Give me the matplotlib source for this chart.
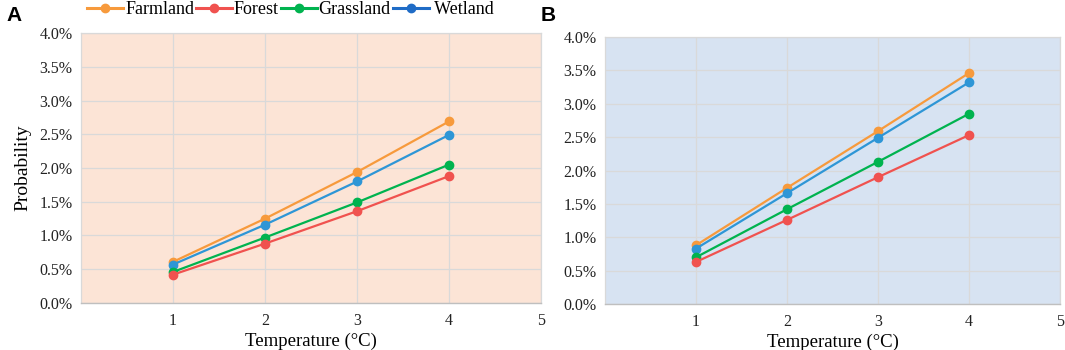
import matplotlib
matplotlib.use("Agg")
import matplotlib.pyplot as plt
from matplotlib.ticker import FuncFormatter

plt.rcParams['font.family'] = ['Liberation Serif', 'DejaVu Serif']

temps = [1, 2, 3, 4]
series_names = ["Farmland", "Forest", "Grassland", "Wetland"]

# Panel A values (%)
a_farmland = [0.61, 1.25, 1.94, 2.69]
a_forest = [0.42, 0.88, 1.36, 1.88]
a_grassland = [0.46, 0.97, 1.49, 2.05]
a_wetland = [0.57, 1.16, 1.80, 2.49]

# Panel B values (%)
b_farmland = [0.88, 1.74, 2.59, 3.46]
b_forest = [0.63, 1.26, 1.90, 2.53]
b_grassland = [0.70, 1.42, 2.13, 2.85]
b_wetland = [0.83, 1.66, 2.49, 3.32]

colors = {"Farmland": "#F79A3C", "Forest": "#F0524F", "Grassland": "#00B34F", "Wetland": "#2E96D6"}
legend_colors = {"Farmland": "#F79A3C", "Forest": "#F0524F", "Grassland": "#00B34F", "Wetland": "#1F6CC6"}

fig = plt.figure(figsize=(10.65, 3.5), dpi=100)
axA = fig.add_axes([0.0761, 0.1343, 0.4319, 0.7714])
axB = fig.add_axes([0.5681, 0.1314, 0.4272, 0.7629])

def style(ax, bg, data):
    ax.set_facecolor(bg)
    order = ["Farmland", "Wetland", "Grassland", "Forest"]
    for name in order:
        ax.plot(temps, data[name], color=colors[name], lw=1.6, marker='o', ms=6, zorder=3)
    ax.set_xlim(0, 5)
    ax.set_ylim(0, 4.0)
    ax.set_xticks([1, 2, 3, 4, 5])
    ax.set_yticks([i * 0.5 for i in range(9)])
    ax.yaxis.set_major_formatter(FuncFormatter(lambda v, p: f"{v:.1f}%"))
    ax.grid(True, color="#D9D9D9", lw=0.9, zorder=0)
    ax.set_axisbelow(True)
    for s in ["top", "right", "left"]:
        ax.spines[s].set_color("#D9D9D9")
        ax.spines[s].set_linewidth(0.9)
    ax.spines["bottom"].set_color("#BFBFBF")
    ax.spines["bottom"].set_linewidth(1.0)
    ax.tick_params(length=0, labelsize=11.5, colors="#222222")
    ax.tick_params(axis='x', pad=7)
    ax.tick_params(axis='y', pad=6)
    ax.set_xlabel("Temperature (°C)", fontsize=13.5, labelpad=3)

style(axA, "#FCE4D6", {"Farmland": a_farmland, "Forest": a_forest,
                        "Grassland": a_grassland, "Wetland": a_wetland})
style(axB, "#D7E3F2", {"Farmland": b_farmland, "Forest": b_forest,
                        "Grassland": b_grassland, "Wetland": b_wetland})
axA.set_ylabel("Probability", fontsize=14, labelpad=6)

handles = [plt.Line2D([], [], color=legend_colors[n], lw=2.2, marker='o', ms=6) for n in series_names]
labels = ["Farmland", "Forest", "Grassland", " Wetland"]
fig.legend(handles, labels, loc='center', bbox_to_anchor=(0.273, 0.972), ncol=4,
           frameon=False, fontsize=13, handlelength=2.0, handletextpad=0.1, columnspacing=0.1,
           borderpad=0.1)

fig.text(0.006, 0.955, "A", fontsize=15, fontweight='bold', family='Liberation Sans', va='center')
fig.text(0.508, 0.955, "B", fontsize=15, fontweight='bold', family='Liberation Sans', va='center')

fig.savefig("out.png", dpi=100)
